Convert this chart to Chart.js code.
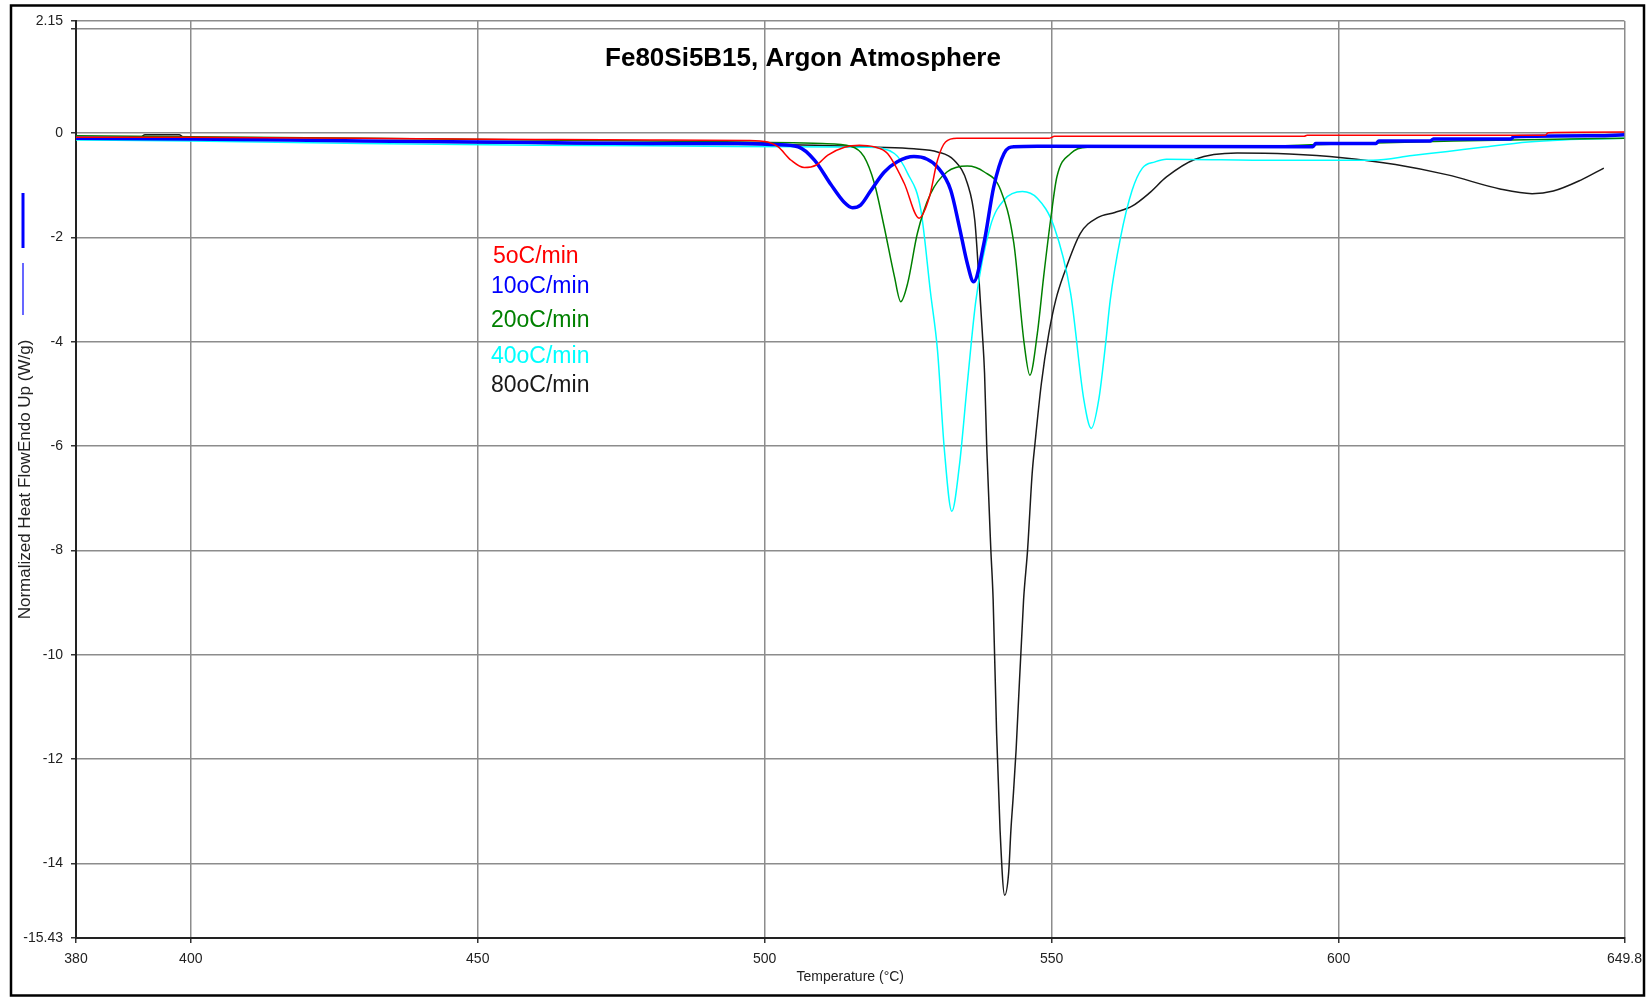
<!DOCTYPE html>
<html>
<head>
<meta charset="utf-8">
<title>Fe80Si5B15, Argon Atmosphere</title>
<script src="https://cdn.jsdelivr.net/npm/chart.js@4.4.0/dist/chart.umd.min.js"></script>
<style>
  body { margin: 0; background: #fff; }
  canvas { display: block; }
</style>
</head>
<body>
<canvas id="dscChart" width="1650" height="998"></canvas>
<script>
/* values */
const chartTitle = 'Fe80Si5B15, Argon Atmosphere';
const seriesNames = ['5oC/min', '10oC/min', '20oC/min', '40oC/min', '80oC/min'];
const xTicks = [380, 400, 450, 500, 550, 600, 649.8];
const yTicks = [2.15, 2, 0, -2, -4, -6, -8, -10, -12, -14, -15.43];

const tempRed = [380, 400, 430, 460, 480, 497, 500.5, 502.3, 504.6, 506.9, 509, 511, 513.9, 516.5, 519, 521.4, 524.3, 526.9, 528.7, 530.1, 531.5, 533.5, 549.5, 550.5, 594, 594.5, 636, 636.5, 649.8];
const flowRed = [-0.08, -0.08, -0.1, -0.12, -0.13, -0.14, -0.17, -0.26, -0.52, -0.66, -0.61, -0.42, -0.27, -0.23, -0.26, -0.39, -0.96, -1.63, -1.22, -0.52, -0.17, -0.1, -0.1, -0.06, -0.06, -0.04, -0.04, 0.01, 0.02];

const tempBlue = [380, 400, 430, 460, 480, 495.4, 502, 505.8, 508.7, 511.5, 513.8, 515.3, 516.7, 518.5, 520.8, 523.1, 526, 528.3, 530.1, 532.4, 533.9, 535.3, 536.4, 538.2, 539.9, 541.7, 543.4, 547.5, 595.5, 596, 606.5, 607, 616, 616.5, 630, 630.5, 645, 649.8];
const flowBlue = [-0.1, -0.11, -0.15, -0.18, -0.2, -0.2, -0.22, -0.26, -0.52, -0.98, -1.32, -1.43, -1.38, -1.1, -0.75, -0.55, -0.45, -0.5, -0.65, -1.09, -1.79, -2.5, -2.85, -2.11, -1.03, -0.39, -0.26, -0.25, -0.26, -0.2, -0.2, -0.15, -0.15, -0.11, -0.11, -0.07, -0.05, -0.03];

const tempGreen = [380, 400, 430, 460, 490, 510, 515, 517.3, 519.1, 520.8, 522.6, 523.7, 524.9, 526.6, 528.9, 531.8, 535.3, 538.2, 541.1, 543.4, 545.2, 546.2, 547.5, 548.6, 549.8, 550.9, 553.3, 556.2, 578, 600, 620, 640, 649.8];
const flowGreen = [-0.05, -0.07, -0.1, -0.13, -0.16, -0.2, -0.25, -0.45, -0.96, -1.79, -2.75, -3.23, -2.88, -1.92, -1.16, -0.74, -0.63, -0.74, -1.09, -2.11, -4.03, -4.64, -3.84, -2.75, -1.67, -0.84, -0.39, -0.27, -0.27, -0.21, -0.15, -0.11, -0.1];

const tempCyan = [380, 400, 430, 460, 490, 505, 518, 522.6, 524.9, 527.2, 528.9, 530.1, 531.3, 532.6, 533.9, 535.3, 536.8, 539.3, 541.7, 544.9, 547.5, 550.4, 553.3, 555.6, 556.9, 558.2, 559.4, 560.2, 562, 564, 565.8, 568, 570, 589, 606, 612.8, 619, 625, 633, 639, 649.8];
const flowCyan = [-0.13, -0.15, -0.2, -0.23, -0.25, -0.26, -0.27, -0.39, -0.77, -1.47, -3.07, -4.16, -6.07, -7.25, -6.39, -4.8, -3.2, -1.79, -1.28, -1.12, -1.25, -1.79, -3.07, -5.11, -5.66, -5.11, -4.03, -3.2, -2.0, -1.1, -0.67, -0.55, -0.5, -0.52, -0.52, -0.43, -0.35, -0.27, -0.17, -0.13, -0.1];

const tempBlack = [380, 391, 392, 398, 399, 420, 440, 470, 500, 519.7, 526, 530.1, 533, 535.3, 536.6, 537.3, 537.9, 538.3, 538.7, 539.4, 539.8, 540.4, 541, 541.8, 542.5, 542.9, 543.3, 543.8, 545.1, 545.8, 546.6, 547.1, 548.2, 549.5, 550.7, 552.2, 555, 558, 561, 564, 567, 570, 575, 582.3, 591.4, 600.6, 609.9, 619, 628.1, 633.7, 637.4, 642.2, 646.2];
const flowBlack = [-0.1, -0.1, -0.03, -0.03, -0.1, -0.13, -0.17, -0.21, -0.22, -0.27, -0.3, -0.36, -0.52, -0.96, -1.67, -2.75, -3.8, -4.6, -6.07, -7.99, -8.95, -11.5, -13.35, -14.61, -14.18, -13.35, -12.71, -11.82, -8.95, -7.99, -6.52, -5.94, -4.8, -3.84, -3.2, -2.68, -1.92, -1.62, -1.52, -1.4, -1.15, -0.84, -0.5, -0.38, -0.4, -0.47, -0.6, -0.8, -1.07, -1.16, -1.11, -0.9, -0.67];

const lineColors = ['#ff0000', '#0000ff', '#008000', '#00ffff', '#1a1a1a'];
const lineWidths = [1.5, 3.5, 1.5, 1.5, 1.5];

const toPoints = (temps, flows) => temps.map((t, i) => ({ x: t, y: flows[i] }));
const allSeries = [
    toPoints(tempRed, flowRed),
    toPoints(tempBlue, flowBlue),
    toPoints(tempGreen, flowGreen),
    toPoints(tempCyan, flowCyan),
    toPoints(tempBlack, flowBlack)
];

// title, coloured labels, axis marks and outer frame
const decorations = {
    id: 'decorations',
    afterDraw(chart) {
        const ctx = chart.ctx;
        ctx.save();
        ctx.fillStyle = '#000';
        ctx.font = 'bold 26px "Liberation Sans", Arial, sans-serif';
        ctx.textAlign = 'center';
        ctx.textBaseline = 'alphabetic';
        ctx.fillText(chartTitle, 803, 66);

        const labelY = [263, 293, 327, 363, 392];
        ctx.font = '23px "Liberation Sans", Arial, sans-serif';
        ctx.textAlign = 'left';
        seriesNames.forEach((name, i) => {
            ctx.fillStyle = lineColors[i];
            ctx.fillText(name, i === 0 ? 493 : 491, labelY[i]);
        });

        // little blue markers next to the y title
        ctx.strokeStyle = '#0000ff';
        ctx.lineWidth = 3;
        ctx.beginPath(); ctx.moveTo(23, 193); ctx.lineTo(23, 248); ctx.stroke();
        ctx.lineWidth = 1.2;
        ctx.beginPath(); ctx.moveTo(23, 263); ctx.lineTo(23, 315); ctx.stroke();

        ctx.fillStyle = '#fff';
        ctx.fillRect(1645, 0, 5, 998);
        ctx.strokeStyle = '#000';
        ctx.lineWidth = 2.5;
        ctx.strokeRect(11, 5.5, 1633, 990);
        ctx.restore();
    }
};

Chart.defaults.font.family = '"Liberation Sans", Arial, sans-serif';
Chart.defaults.color = '#222';

const ctx = document.getElementById('dscChart').getContext('2d');
const dscChart = new Chart(ctx, {
    type: 'line',
    data: {
        datasets: allSeries.map((pts, i) => ({
            label: seriesNames[i],
            data: pts,
            borderColor: lineColors[i],
            borderWidth: lineWidths[i],
            pointRadius: 0,
            fill: false,
            cubicInterpolationMode: 'monotone'
        }))
    },
    options: {
        responsive: false,
        animation: false,
        devicePixelRatio: 1,
        layout: { padding: { left: 12, right: 18, top: 21, bottom: 0 } },
        plugins: {
            legend: { display: false },
            tooltip: { enabled: false }
        },
        scales: {
            x: {
                type: 'linear',
                min: 380,
                max: 649.8,
                afterBuildTicks: (scale) => { scale.ticks = xTicks.map(v => ({ value: v })); },
                afterFit: (scale) => { scale.height = 60; },
                ticks: {
                    autoSkip: false,
                    maxRotation: 0,
                    padding: 8,
                    font: { size: 14 },
                    callback: (v) => String(v)
                },
                grid: { color: '#8c8c8c', lineWidth: 1.5, tickLength: 5, tickColor: '#333' },
                border: { color: '#222', width: 2 },
                title: {
                    display: true,
                    text: 'Temperature (°C)',
                    font: { size: 14 },
                    padding: { top: 0, bottom: 12 }
                }
            },
            y: {
                type: 'linear',
                min: -15.43,
                max: 2.15,
                afterBuildTicks: (scale) => { scale.ticks = yTicks.map(v => ({ value: v })); },
                afterFit: (scale) => { scale.width = 64; },
                ticks: {
                    autoSkip: false,
                    padding: 8,
                    font: { size: 14 },
                    callback: (v) => (v === 2 ? '' : String(v))
                },
                grid: { color: '#8c8c8c', lineWidth: 1.5, tickLength: 5, tickColor: '#333' },
                border: { color: '#222', width: 2 },
                title: {
                    display: true,
                    text: 'Normalized Heat FlowEndo Up (W/g)',
                    font: { size: 17 },
                    padding: { top: 3, bottom: 0 }
                }
            }
        }
    },
    plugins: [decorations]
});
</script>
</body>
</html>
